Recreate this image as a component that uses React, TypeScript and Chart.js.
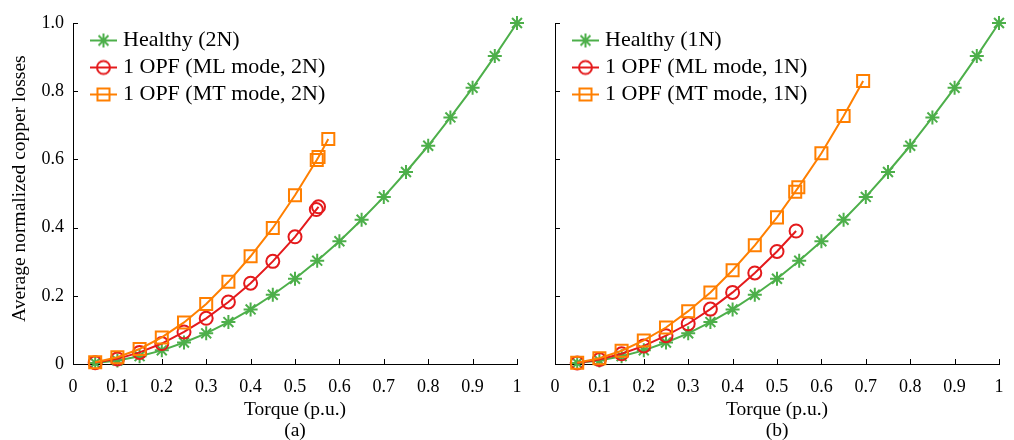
import React, { useEffect, useRef } from 'react';
import { Chart, registerables } from 'chart.js';

Chart.register(...registerables);

// ---------- data ----------
const healthyTorque = [0.05, 0.1, 0.15, 0.2, 0.25, 0.3, 0.35, 0.4, 0.45, 0.5, 0.55, 0.6, 0.65, 0.7, 0.75, 0.8, 0.85, 0.9, 0.95, 1.0];
const healthyLoss = [0.003, 0.01, 0.023, 0.04, 0.063, 0.09, 0.123, 0.16, 0.203, 0.25, 0.303, 0.36, 0.423, 0.49, 0.563, 0.64, 0.723, 0.81, 0.903, 1.0];

const ml2nTorque = [0.05, 0.1, 0.15, 0.2, 0.25, 0.3, 0.35, 0.4, 0.45, 0.5, 0.548, 0.553];
const ml2nLoss = [0.004, 0.015, 0.034, 0.06, 0.094, 0.134, 0.182, 0.237, 0.301, 0.373, 0.453, 0.461];

const mt2nTorque = [0.05, 0.1, 0.15, 0.2, 0.25, 0.3, 0.35, 0.4, 0.45, 0.5, 0.549, 0.553, 0.575];
const mt2nLoss = [0.005, 0.02, 0.044, 0.078, 0.122, 0.176, 0.241, 0.316, 0.399, 0.495, 0.598, 0.607, 0.66];

const ml1nTorque = [0.05, 0.1, 0.15, 0.2, 0.25, 0.3, 0.35, 0.4, 0.45, 0.5, 0.543];
const ml1nLoss = [0.003, 0.013, 0.03, 0.053, 0.083, 0.118, 0.161, 0.21, 0.267, 0.33, 0.39];

const mt1nTorque = [0.05, 0.1, 0.15, 0.2, 0.25, 0.3, 0.35, 0.4, 0.45, 0.5, 0.541, 0.548, 0.6, 0.65, 0.694];
const mt1nLoss = [0.004, 0.017, 0.039, 0.069, 0.107, 0.155, 0.21, 0.275, 0.348, 0.43, 0.505, 0.518, 0.618, 0.727, 0.83];

const xTickLabels = ['0', '0.1', '0.2', '0.3', '0.4', '0.5', '0.6', '0.7', '0.8', '0.9', '1'];
const yTickLabels = ['0', '0.2', '0.4', '0.6', '0.8', '1.0'];

const labels2N = ['Healthy (2N)', '1 OPF (ML mode, 2N)', '1 OPF (MT mode, 2N)'];
const labels1N = ['Healthy (1N)', '1 OPF (ML mode, 1N)', '1 OPF (MT mode, 1N)'];

const seriesColors = ['#4DAF4A', '#E41A1C', '#FF7F00'];
const seriesMarkers = ['star', 'circle', 'rect'];
const markerRadius = [7, 6.5, 8.5];

const FONT = "'Liberation Serif', 'Times New Roman', serif";

// ---------- helpers ----------
function toPoints(xs: number[], ys: number[]) {
  return xs.map((x, i) => ({ x, y: ys[i] }));
}

function drawMarker(ctx: CanvasRenderingContext2D, kind: string, cx: number, cy: number, r: number) {
  ctx.beginPath();
  if (kind === 'circle') {
    ctx.arc(cx, cy, r, 0, Math.PI * 2);
  } else if (kind === 'rect') {
    const s = r * Math.SQRT1_2;
    ctx.rect(cx - s, cy - s, 2 * s, 2 * s);
  } else {
    ctx.moveTo(cx - r, cy); ctx.lineTo(cx + r, cy);
    ctx.moveTo(cx, cy - r); ctx.lineTo(cx, cy + r);
    const d = r * Math.SQRT1_2;
    ctx.moveTo(cx - d, cy - d); ctx.lineTo(cx + d, cy + d);
    ctx.moveTo(cx - d, cy + d); ctx.lineTo(cx + d, cy - d);
  }
  ctx.stroke();
}

function legendSymbol(i: number) {
  const c = document.createElement('canvas');
  c.width = 44;
  c.height = 20;
  const ctx = c.getContext('2d')!;
  ctx.strokeStyle = seriesColors[i];
  ctx.lineWidth = 2;
  ctx.beginPath();
  ctx.moveTo(17, 10);
  ctx.lineTo(44, 10);
  ctx.stroke();
  drawMarker(ctx, seriesMarkers[i], 30.5, 10, markerRadius[i]);
  return c;
}

const inwardTicks = {
  id: 'inwardTicks',
  beforeDatasetsDraw(chart: any) {
    const { ctx, chartArea } = chart;
    const xs = chart.scales.x;
    const ys = chart.scales.y;
    ctx.save();
    ctx.strokeStyle = '#000';
    ctx.lineWidth = 1;
    ctx.beginPath();
    xs.ticks.forEach((t: any) => {
      const px = Math.round(xs.getPixelForValue(t.value)) + 0.5;
      ctx.moveTo(px, chartArea.bottom);
      ctx.lineTo(px, chartArea.bottom - 5);
    });
    ys.ticks.forEach((t: any) => {
      const py = Math.round(ys.getPixelForValue(t.value)) + 0.5;
      ctx.moveTo(chartArea.left, py);
      ctx.lineTo(chartArea.left + 5, py);
    });
    ctx.stroke();
    ctx.restore();
  },
};

type PanelProps = {
  left: number;
  width: number;
  axisWidth: number;
  padRight: number;
  showYLabels: boolean;
  caption: string;
  names: string[];
  series: { x: number[]; y: number[] }[];
};

function Panel(props: PanelProps) {
  const ref = useRef<HTMLCanvasElement | null>(null);
  useEffect(() => {
    if (!ref.current) return;
    const symbols = [0, 1, 2].map(legendSymbol);
    const orders = [2, 1, 0];
    const chart = new Chart(ref.current, {
      type: 'line',
      data: {
        datasets: props.series.map((s, i) => ({
          label: props.names[i],
          data: toPoints(s.x, s.y),
          borderColor: seriesColors[i],
          backgroundColor: 'rgba(0,0,0,0)',
          borderWidth: 2,
          pointStyle: seriesMarkers[i] as any,
          pointRadius: markerRadius[i],
          pointBorderWidth: 2,
          pointBorderColor: seriesColors[i],
          pointBackgroundColor: 'rgba(0,0,0,0)',
          pointHoverRadius: markerRadius[i],
          tension: 0,
          fill: false,
          clip: false as any,
          order: orders[i],
        })),
      },
      options: {
        animation: false,
        responsive: false,
        maintainAspectRatio: false,
        devicePixelRatio: 1,
        events: [],
        layout: { padding: { left: 0, top: 23, right: props.padRight, bottom: 0 } },
        scales: {
          x: {
            type: 'linear',
            min: 0,
            max: 1,
            grid: { display: true, drawOnChartArea: false, drawTicks: false },
            border: { display: true, color: '#000', width: 1 },
            ticks: {
              stepSize: 0.1,
              padding: 12,
              color: '#000',
              maxRotation: 0,
              autoSkip: false,
              font: { family: FONT, size: 18 },
              callback: (_v: any, idx: number) => xTickLabels[idx],
            },
            title: {
              display: true,
              text: ['Torque (p.u.)', props.caption],
              color: '#000',
              font: { family: FONT, size: 19.5, lineHeight: 21 / 19.5 },
              padding: { top: 0, bottom: -1.5 },
            },
            afterFit: (s: any) => { s.height = 76; },
          },
          y: {
            type: 'linear',
            min: 0,
            max: 1,
            grid: { display: true, drawOnChartArea: false, drawTicks: false },
            border: { display: true, color: '#000', width: 1 },
            ticks: {
              stepSize: 0.2,
              padding: 9,
              color: '#000',
              display: props.showYLabels,
              font: { family: FONT, size: 18 },
              callback: (_v: any, idx: number) => yTickLabels[idx],
            },
            title: {
              display: props.showYLabels,
              text: '  Average normalized copper losses',
              color: '#000',
              font: { family: FONT, size: 19.5, lineHeight: 1.2 },
              padding: { top: 8, bottom: 0 },
            },
            afterFit: (s: any) => { s.width = props.axisWidth; },
          },
        },
        plugins: {
          tooltip: { enabled: false },
          legend: {
            display: true,
            position: 'chartArea' as any,
            align: 'start',
            title: {
              display: true,
              text: '',
              font: { family: FONT, size: 10, lineHeight: 1 },
              padding: { top: 14.5, bottom: 0 },
            },
            labels: {
              usePointStyle: true,
              pointStyleWidth: 34,
              padding: 5,
              color: '#000',
              font: { family: FONT, size: 22 },
              generateLabels: () =>
                props.names.map((n, i) => ({
                  text: n,
                  pointStyle: symbols[i] as any,
                  fillStyle: 'rgba(0,0,0,0)',
                  strokeStyle: seriesColors[i],
                  lineWidth: 0,
                  hidden: false,
                  datasetIndex: i,
                  fontColor: '#000',
                })),
            },
          },
        },
      },
      plugins: [inwardTicks],
    });
    return () => chart.destroy();
  }, []);
  return (
    <canvas
      ref={ref}
      width={props.width}
      height={440}
      style={{ position: 'absolute', left: props.left, top: 0, width: props.width, height: 440 }}
    />
  );
}

export default function App() {
  return (
    <div style={{ position: 'absolute', left: 0, top: 0, width: 1014, height: 440, background: '#fff', overflow: 'hidden' }}>
      <Panel
        left={0}
        width={534}
        axisWidth={73}
        padRight={17}
        showYLabels={true}
        caption="(a)"
        names={labels2N}
        series={[
          { x: healthyTorque, y: healthyLoss },
          { x: ml2nTorque, y: ml2nLoss },
          { x: mt2nTorque, y: mt2nLoss },
        ]}
      />
      <Panel
        left={527}
        width={489}
        axisWidth={28}
        padRight={17}
        showYLabels={false}
        caption="(b)"
        names={labels1N}
        series={[
          { x: healthyTorque, y: healthyLoss },
          { x: ml1nTorque, y: ml1nLoss },
          { x: mt1nTorque, y: mt1nLoss },
        ]}
      />
    </div>
  );
}
